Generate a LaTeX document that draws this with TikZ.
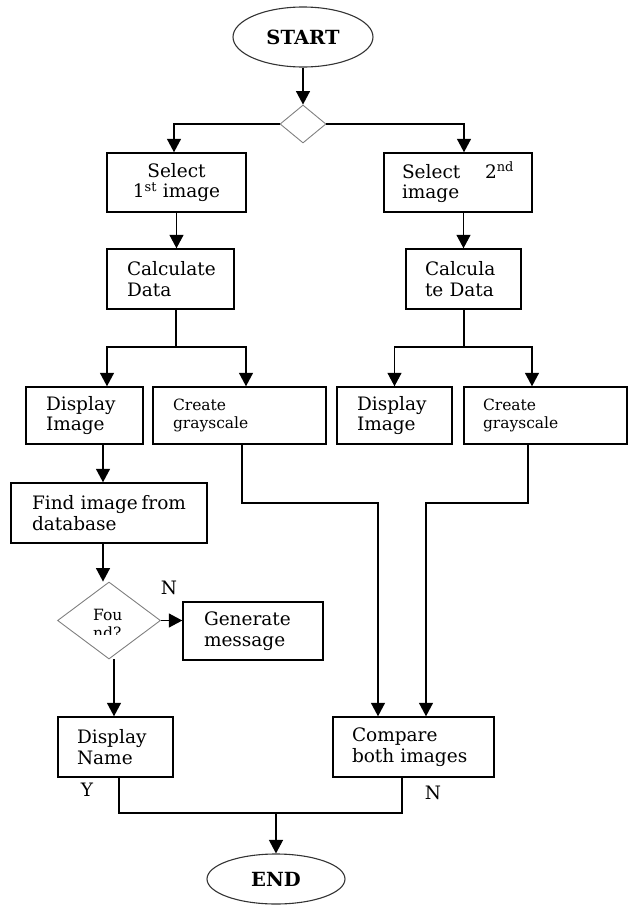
\documentclass[tikz,border=0pt]{standalone}
\usepackage{fontspec}
\setmainfont{DejaVu Serif}
\usetikzlibrary{arrows.meta,shapes.geometric}
\definecolor{edgegrey}{gray}{0.2}
\definecolor{diagrey}{gray}{0.5}
\newcommand{\fcfont}{\fontsize{18.5}{20.5}\selectfont}
\newcommand{\fcsmall}{\fontsize{15.5}{18}\selectfont}
\newcommand{\fcbold}{\fontsize{19.5}{22}\selectfont\bfseries}
\hyphenpenalty=10000
\tikzset{
  flowchart/.style={font=\fcfont, x=1pt, y=-1pt},
  % start and end of the chart
  termnode/.style={ellipse, draw=edgegrey, line width=1.1pt, font=\fcbold,
                   minimum width=140pt, minimum height=60pt, inner sep=0pt},
  % a decision diamond
  decnode/.style={diamond, draw=diagrey, line width=0.9pt, inner sep=0pt},
  % a process box -- text set from the left, the box a fixed size
  procbox/.style={rectangle, draw=black, line width=1.4pt, inner sep=0pt,
                  align=left, minimum height=59pt},
  % ditto, with the text a size smaller
  smallbox/.style={procbox, font=\fcsmall},
  % a connector, and one that ends in an arrow
  conn/.style={draw=black, line width=1.3pt},
  arrconn/.style={conn, -{Triangle[length=13.5pt,width=14pt]}},
  % the Y / N beside a connector
  yn/.style={inner sep=0pt},
}
\newcommand{\pbox}[7][]{%
  \node[procbox, minimum width=#5pt, text width=#6pt, #1] (#2) at (#3,#4) {#7};%
}

\begin{document}
\begin{tikzpicture}[flowchart]
  % -------------------------------------------------------------------------
  % Two images: each is selected, its data calculated, shown and turned to
  % grayscale; the first is looked up in the database, the two grayscale
  % versions are compared.
  % -------------------------------------------------------------------------
  \useasboundingbox (0,0) rectangle (629,905);

  \node[termnode] (start) at (303,37) {START};
  \node[decnode, minimum width=46pt, minimum height=38pt] (split) at (303,124) {};

  \pbox[align=center, text width=]{sel1}{176.5}{182.5}{139}{112}{Select\\1\textsuperscript{st} image}
  \pbox{sel2}{458}{182.5}{148}{112}{Select\hfill 2\textsuperscript{nd}\\image}
  \pbox[minimum height=60pt]{calc1}{170.5}{279}{127}{87}{Calculate\\Data}
  \pbox[minimum height=60pt]{calc2}{463.5}{279}{115}{77}{Calcula\\te Data}

  \pbox[minimum height=57pt]{disp1}{84.5}{415.5}{117}{77}{Display\\Image}
  \pbox[smallbox, minimum height=57pt]{gray1}{239.5}{415.5}{173}{133}{Create\\grayscale}
  \pbox[minimum height=57pt]{disp2}{394.5}{415.5}{115}{75}{Display\\Image}
  \pbox[smallbox, minimum height=57pt]{gray2}{545.5}{415.5}{163}{125}{Create\\grayscale}

  \pbox[minimum height=60pt]{find}{109}{513}{196}{154}{Find image\hfill from\\database}
  \node[decnode, minimum width=103pt, minimum height=77pt] (found) at (109,620.5) {};
  \begin{scope}
    \clip (80,600) rectangle (140,634);
    \node[font=\fcsmall, align=left, inner sep=0pt, anchor=north west]
      (foundtxt) at (93,608.5) {Fou\\nd?};
  \end{scope}
  \pbox[minimum height=58pt]{gen}{253}{631}{140}{98}{Generate\\message}

  \pbox[minimum height=60pt]{dname}{115.5}{747}{115}{77}{Display\\Name}
  \pbox[minimum height=60pt]{cmp}{413.5}{747}{161}{123}{Compare\\both images}
  \node[termnode, minimum width=138pt, minimum height=50pt] (finish) at (276,879) {END};

  \node[yn] (nfound) at (169,588) {N};
  \node[yn] (yname) at (87,790) {Y};
  \node[yn] (ncmp) at (433,793) {N};

  \coordinate (jl) at (176,347);
  \coordinate (jr) at (464,347);
  \coordinate (gl) at (378,503);
  \coordinate (gr) at (426,503);
  \coordinate (jb) at (276,813);

  \draw[arrconn] (start) -- (split);
  \draw[arrconn] (split.west) -| ([xshift=-2.5pt]sel1.north);
  \draw[arrconn] (split.east) -| ([xshift=6pt]sel2.north);
  \draw[arrconn] (sel1.south) -- (sel1.south |- calc1.north);
  \draw[arrconn] (calc2.north |- sel2.south) -- (calc2.north);

  \draw[conn] (calc1.south -| jl) -- (jl);
  \draw[arrconn] (jl) -| ([xshift=22.5pt]disp1.north);
  \draw[arrconn] (jl) -| ([xshift=6.5pt]gray1.north);
  \draw[conn] (calc2.south -| jr) -- (jr);
  \draw[arrconn] (jr) -| (disp2.north);
  \draw[arrconn] (jr) -| ([xshift=-13.5pt]gray2.north);

  \draw[arrconn] ([xshift=18.5pt]disp1.south) -- ([xshift=18.5pt]disp1.south |- find.north);
  \draw[arrconn] ([xshift=-6pt]find.south) -- ([xshift=-6pt]found.north);
  \draw[arrconn] (found.east) -- (found.east -| gen.west);
  \draw[arrconn] ([xshift=5pt]found.south) -- ([xshift=5pt]found.south |- dname.north);

  \draw[arrconn] ([xshift=2.5pt]gray1.south) |- (gl) -- (gl |- cmp.north);
  \draw[arrconn] ([xshift=-17.5pt]gray2.south) |- (gr) -- (gr |- cmp.north);

  \draw[conn] ([xshift=3.5pt]dname.south) |- (jb);
  \draw[conn] ([xshift=-11.5pt]cmp.south) |- (jb);
  \draw[arrconn] (jb) -- (finish);
\end{tikzpicture}
\end{document}
